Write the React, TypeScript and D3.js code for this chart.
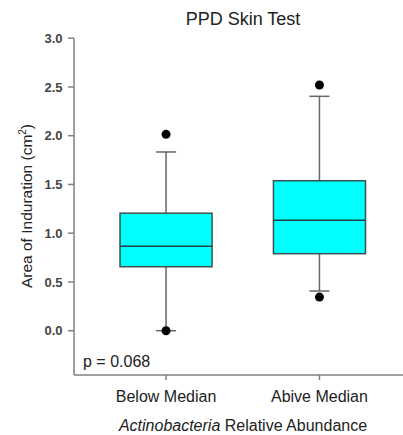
import React from "react";
import * as d3 from "d3";

const categories = ["Below Median", "Abive Median"];
const q1 = [0.656, 0.79];
const medians = [0.866, 1.132];
const q3 = [1.205, 1.538];
const whiskerLow = [0.0, 0.407];
const whiskerHigh = [1.833, 2.404];
const outliers = [[2.014, 0.0], [2.52, 0.345]];
const yTicks = [0, 0.5, 1.0, 1.5, 2.0, 2.5, 3.0];

export default function App() {
  const W = 403, H = 435;
  const left = 74, right = 411.5, bottom = 375;
  const y = d3.scaleLinear().domain([0, 3]).range([330.7, 38.2]);
  const x = d3.scalePoint<string>().domain(categories).range([left, right]).padding(0.6);
  const step = x.step();
  const bw = step * 0.6;
  const cap = 10;
  const font = "Arial, 'Liberation Sans', Helvetica, sans-serif";
  const axisColor = "#808080";
  return (
    <svg width={W} height={H} style={{ position: "absolute", left: 0, top: 0, fontFamily: font }}>
      <rect width={W} height={H} fill="#fff" />
      <text x={243} y={25} textAnchor="middle" fontSize={18} fill="#222">PPD Skin Test</text>
      {/* axes */}
      <line x1={left} x2={left} y1={y(3)} y2={bottom} stroke={axisColor} strokeWidth={1.5} />
      <line x1={left} x2={right} y1={bottom} y2={bottom} stroke={axisColor} strokeWidth={1.5} />
      {yTicks.map((t) => (
        <g key={t}>
          <line x1={left - 6} x2={left} y1={y(t)} y2={y(t)} stroke={axisColor} strokeWidth={1.5} />
          <text x={62.5} y={y(t)} dy="0.35em" textAnchor="end" fontSize={13} fontWeight="bold" fill="#444">{t.toFixed(1)}</text>
        </g>
      ))}
      {categories.map((c) => (
        <g key={c}>
          <line x1={x(c)!} x2={x(c)!} y1={bottom} y2={bottom + 5} stroke={axisColor} strokeWidth={1.5} />
          <text x={x(c)!} y={402} textAnchor="middle" fontSize={16} fill="#222">{c}</text>
        </g>
      ))}
      <text x={243} y={431} textAnchor="middle" fontSize={16} fill="#222">
        <tspan fontStyle="italic">Actinobacteria</tspan> Relative Abundance
      </text>
      <text transform="translate(32,206) rotate(-90)" textAnchor="middle" fontSize={15.5} fill="#222">
        Area of Induration (cm<tspan dy={-6} fontSize={10}>2</tspan><tspan dy={6}>)</tspan>
      </text>
      <text x={83} y={367} fontSize={16} fill="#222">p = 0.068</text>
      {/* boxes */}
      {categories.map((c, i) => {
        const cx = x(c)!;
        return (
          <g key={c}>
            <line x1={cx} x2={cx} y1={y(q3[i])} y2={y(whiskerHigh[i])} stroke="#666" strokeWidth={1.5} />
            <line x1={cx} x2={cx} y1={y(q1[i])} y2={y(whiskerLow[i])} stroke="#666" strokeWidth={1.5} />
            <line x1={cx - cap} x2={cx + cap} y1={y(whiskerHigh[i])} y2={y(whiskerHigh[i])} stroke="#666" strokeWidth={1.5} />
            <line x1={cx - cap} x2={cx + cap} y1={y(whiskerLow[i])} y2={y(whiskerLow[i])} stroke="#666" strokeWidth={1.5} />
            <rect x={cx - bw / 2} y={y(q3[i])} width={bw} height={y(q1[i]) - y(q3[i])} fill="#00FFFF" stroke="#3c5050" strokeWidth={1.5} />
            <line x1={cx - bw / 2} x2={cx + bw / 2} y1={y(medians[i])} y2={y(medians[i])} stroke="#1e4040" strokeWidth={1.5} />
            {outliers[i].map((o, j) => (
              <circle key={j} cx={cx} cy={y(o)} r={4.5} fill="#000" />
            ))}
          </g>
        );
      })}
    </svg>
  );
}
